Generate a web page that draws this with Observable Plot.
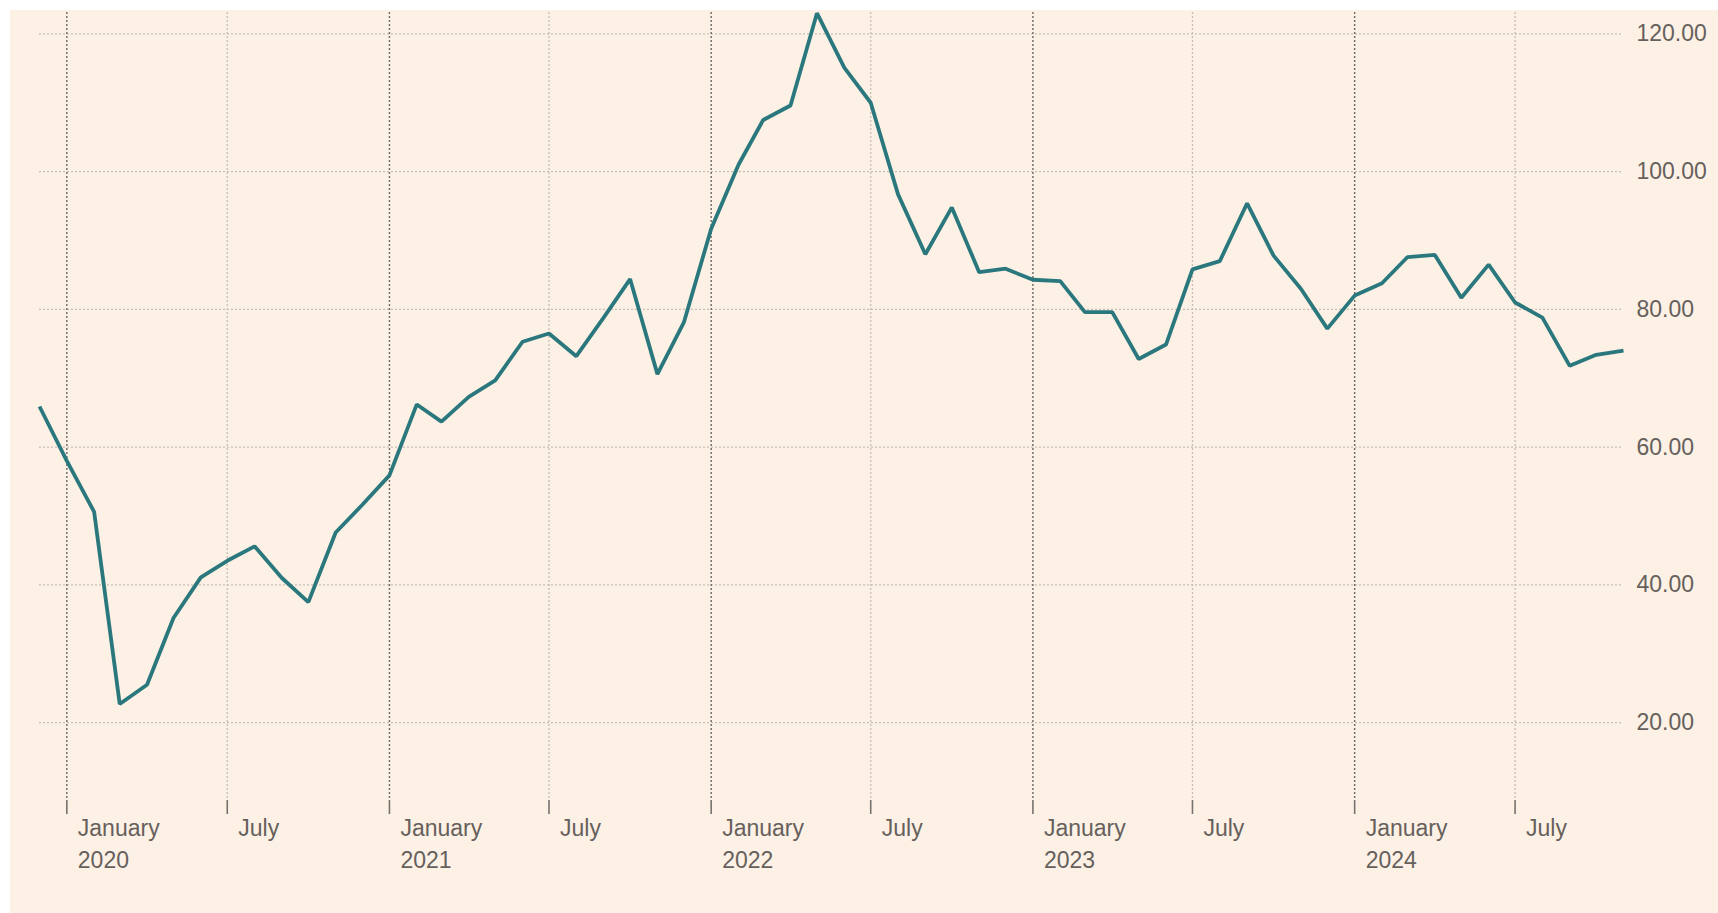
<!DOCTYPE html>
<html>
<head>
<meta charset="utf-8">
<script src="https://cdn.jsdelivr.net/npm/d3@7"></script>
<script src="https://cdn.jsdelivr.net/npm/@observablehq/plot@0.6"></script>
<style>
  html, body { margin: 0; padding: 0; background: #ffffff; }
  #wrap { position: relative; width: 1718px; height: 913px; overflow: hidden; }
  #bg { position: absolute; left: 10px; top: 10px; right: 0; bottom: 0; background: #fdf1e5; }
  #chart { position: absolute; left: 0; top: 0; }
</style>
</head>
<body>
<div id="wrap"><div id="bg"></div><div id="chart"></div></div>
<script>
const months = [
  "2019-12",
  "2020-01","2020-02","2020-03","2020-04","2020-05","2020-06","2020-07","2020-08","2020-09","2020-10","2020-11","2020-12",
  "2021-01","2021-02","2021-03","2021-04","2021-05","2021-06","2021-07","2021-08","2021-09","2021-10","2021-11","2021-12",
  "2022-01","2022-02","2022-03","2022-04","2022-05","2022-06","2022-07","2022-08","2022-09","2022-10","2022-11","2022-12",
  "2023-01","2023-02","2023-03","2023-04","2023-05","2023-06","2023-07","2023-08","2023-09","2023-10","2023-11","2023-12",
  "2024-01","2024-02","2024-03","2024-04","2024-05","2024-06","2024-07","2024-08","2024-09","2024-10","2024-11"
];
const values = [
  65.9,
  58.0, 50.6, 22.7, 25.5, 35.2, 41.1, 43.5, 45.6, 41.0, 37.5, 47.6, 51.6,
  55.9, 66.2, 63.7, 67.3, 69.7, 75.3, 76.5, 73.2, 78.8, 84.4, 70.6, 78.1,
  91.7, 101.0, 107.5, 109.6, 123.0, 115.1, 110.0, 96.7, 88.0, 94.8, 85.4, 85.9,
  84.3, 84.1, 79.6, 79.6, 72.8, 74.9, 85.8, 87.0, 95.4, 87.8, 83.0, 77.2,
  82.0, 83.8, 87.6, 87.9, 81.7, 86.5, 81.0, 78.8, 71.8, 73.4, 74.0
];
const januaryTicks = ["2020-01","2021-01","2022-01","2023-01","2024-01"];
const julyTicks = ["2020-07","2021-07","2022-07","2023-07","2024-07"];
const yTicks = [20, 40, 60, 80, 100, 120];
const yDomain = [8.7, 123.1];
const xDomain = ["2019-12", "2024-11"];

const parse = d3.utcParse("%Y-%m");
const data = months.map((m, i) => ({date: parse(m), value: values[i]}));
const jan = januaryTicks.map(parse);
const jul = julyTicks.map(parse);
const allTicks = [...jan, ...jul].sort((a, b) => a - b);

const fmtX = d => d.getUTCMonth() === 0
  ? `January\n${d.getUTCFullYear()}`
  : "July";

const chart = Plot.plot({
  width: 1718,
  height: 913,
  marginLeft: 39,
  marginRight: 95,
  marginTop: 12,
  marginBottom: 113,
  style: {
    background: "transparent",
    fontFamily: "'Liberation Sans', Arial, Helvetica, sans-serif",
    color: "#66605c"
  },
  x: { type: "utc", domain: xDomain.map(parse) },
  y: { domain: yDomain },
  marks: [
    Plot.gridY(yTicks, { stroke: "#c6beb6", strokeOpacity: 1, strokeDasharray: "2,2", strokeWidth: 1.3 }),
    Plot.ruleX(jul, { stroke: "#c6beb6", strokeOpacity: 1, strokeDasharray: "2,2", strokeWidth: 1.3 }),
    Plot.ruleX(jan, { stroke: "#6c6967", strokeOpacity: 1, strokeDasharray: "2,2", strokeWidth: 1.4 }),
    // tick marks
    Plot.axisX(allTicks, {
      anchor: "bottom",
      tickSize: 14,
      fill: "none",
      stroke: "#76726f",
      strokeWidth: 1.6,
      label: null
    }),
    // tick labels
    Plot.axisX(allTicks, {
      anchor: "bottom",
      tickSize: 0,
      tickPadding: 13,
      stroke: "none",
      tickFormat: fmtX,
      textAnchor: "start",
      dx: 11,
      fontSize: 23,
      lineHeight: 1.39,
      label: null
    }),
    Plot.axisY(yTicks, {
      anchor: "right",
      tickSize: 0,
      tickPadding: 13,
      tickFormat: d3.format(".2f"),
      fontSize: 23,
      label: null
    }),
    Plot.line(data, { x: "date", y: "value", stroke: "#2a787d", strokeWidth: 3.8, strokeLinejoin: "miter", strokeLinecap: "butt" })
  ]
});
document.getElementById("chart").appendChild(chart);
</script>
</body>
</html>
